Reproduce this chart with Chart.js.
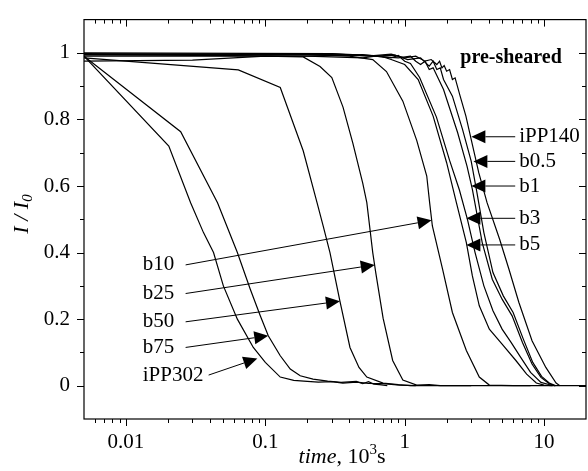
<!DOCTYPE html>
<html>
<head>
<meta charset="utf-8">
<script src="https://cdn.jsdelivr.net/npm/chart.js@4.4.0/dist/chart.umd.min.js"></script>
<style>
  body { margin: 0; background: #fff; }
  #wrap { width: 588px; height: 471px; }
</style>
</head>
<body>
<div id="wrap"><canvas id="chart" width="588" height="471"></canvas></div>
<script>
// time in 10^3 s, intensity I/I0
const tIPP302 = [0.005, 0.0203, 0.0291, 0.036, 0.0425, 0.05, 0.063, 0.082, 0.1, 0.128, 0.16, 0.2, 0.24, 0.3, 0.36, 0.45, 0.55, 0.7, 0.92, 1.2];
const iIPP302 = [0.99, 0.72, 0.55, 0.46, 0.40, 0.30, 0.20, 0.115, 0.07, 0.026, 0.016, 0.013, 0.011, 0.012, 0.008, 0.011, 0.007, 0.006, 0.002, 0];

const tB75 = [0.005, 0.0247, 0.0454, 0.063, 0.078, 0.092, 0.105, 0.128, 0.151, 0.178, 0.22, 0.28, 0.35, 0.45, 0.5, 0.55, 0.6, 0.66, 0.75];
const iB75 = [0.99, 0.763, 0.55, 0.40, 0.29, 0.21, 0.15, 0.09, 0.05, 0.03, 0.02, 0.014, 0.01, 0.013, 0.006, 0.012, 0.005, 0.003, 0];

const tB50 = [0.005, 0.064, 0.128, 0.187, 0.235, 0.26, 0.291, 0.343, 0.405, 0.47, 0.535, 0.7, 0.9, 1.1, 3];
const iB50 = [0.985, 0.949, 0.896, 0.706, 0.55, 0.48, 0.40, 0.254, 0.115, 0.055, 0.026, 0.008, 0.003, 0, 0];

const tB25 = [0.005, 0.03, 0.1, 0.187, 0.247, 0.3, 0.361, 0.425, 0.5, 0.535, 0.59, 0.62, 0.7, 0.82, 0.97, 1.22, 1.5, 1.8, 8];
const iB25 = [0.975, 0.978, 0.99, 0.988, 0.959, 0.926, 0.837, 0.728, 0.609, 0.55, 0.40, 0.34, 0.203, 0.076, 0.017, 0.002, 0.003, 0, 0];

const tB10 = [0.005, 0.2, 0.4, 0.59, 0.74, 0.97, 1.22, 1.44, 1.51, 1.58, 1.87, 2.2, 2.77, 3.43, 4.05, 6, 20];
const iB10 = [0.995, 0.995, 0.99, 0.98, 0.944, 0.855, 0.737, 0.63, 0.55, 0.48, 0.35, 0.22, 0.106, 0.026, 0.002, 0, 0];

const tB5 = [0.005, 0.2, 0.5, 0.65, 0.8, 1.0, 1.25, 1.6, 2.0, 2.35, 2.77, 3.06, 3.43, 4.05, 5.0, 6.3, 7.5, 8.8, 10, 11.5];
const iB5 = [0.99, 0.99, 0.985, 0.992, 0.98, 0.965, 0.92, 0.81, 0.67, 0.55, 0.43, 0.33, 0.24, 0.17, 0.125, 0.075, 0.035, 0.008, 0.002, 0];

const tB3 = [0.005, 0.2, 0.5, 0.8, 0.9, 1.0, 1.1, 1.28, 1.69, 2.1, 2.47, 2.82, 3.2, 3.7, 4.3, 5.0, 5.8, 6.8, 8, 9.5, 11, 12];
const iB3 = [0.995, 0.99, 0.995, 0.985, 0.992, 0.975, 0.968, 0.926, 0.807, 0.677, 0.588, 0.50, 0.40, 0.30, 0.225, 0.17, 0.13, 0.085, 0.04, 0.01, 0.003, 0];

const tB1 = [0.005, 0.3, 0.6, 0.9, 1.1, 1.2, 1.3, 1.4, 1.5, 1.6, 1.9, 2.4, 2.8, 3.06, 3.6, 4.25, 5.0, 5.9, 7.0, 8.2, 9.5, 10.9, 12];
const iB1 = [0.995, 0.997, 0.99, 0.985, 0.99, 0.975, 0.965, 0.975, 0.95, 0.955, 0.89, 0.76, 0.66, 0.59, 0.43, 0.32, 0.26, 0.21, 0.13, 0.065, 0.025, 0.006, 0];

const tB05 = [0.005, 0.3, 0.6, 0.85, 1.05, 1.3, 1.5, 1.6, 1.7, 1.8, 1.9, 2.2, 2.6, 3.0, 3.3, 3.7, 4.3, 5.1, 6.0, 7.1, 8.3, 9.6, 11, 12.2];
const iB05 = [0.998, 0.995, 0.99, 0.993, 0.98, 0.985, 0.96, 0.975, 0.95, 0.955, 0.92, 0.87, 0.77, 0.675, 0.58, 0.46, 0.34, 0.27, 0.22, 0.14, 0.07, 0.028, 0.007, 0];

const tIPP140 = [0.005, 0.3, 0.6, 0.8, 1.0, 1.2, 1.4, 1.55, 1.7, 1.78, 1.85, 1.92, 2.0, 2.1, 2.2, 2.3, 2.5, 2.75, 3.0, 3.4, 3.9, 4.8, 5.6, 6.6, 8.2, 10.3, 12.2, 13];
const iIPP140 = [1.0, 0.998, 0.992, 0.996, 0.985, 0.99, 0.975, 0.98, 0.965, 0.975, 0.955, 0.962, 0.945, 0.95, 0.92, 0.925, 0.87, 0.81, 0.74, 0.64, 0.55, 0.44, 0.35, 0.25, 0.135, 0.055, 0.008, 0];

const xMajor = [0.01, 0.1, 1, 10];
const yMajor = [0, 0.2, 0.4, 0.6, 0.8, 1];
const yMinor = [0.1, 0.3, 0.5, 0.7, 0.9];

// labels: [text, textX, textY, lineStartX, tipX, tipY]
const leftLabels = [
  ['b10', 0.0132, 0.363, 0.0268, 1.56, 0.497],
  ['b25', 0.0132, 0.277, 0.0268, 0.61, 0.363],
  ['b50', 0.0132, 0.192, 0.0268, 0.343, 0.254],
  ['b75', 0.0132, 0.115, 0.0268, 0.105, 0.150],
  ['iPP302', 0.0132, 0.032, 0.0392, 0.0877, 0.082]
];
const rightLabels = [
  ['iPP140', 6.63, 0.748, 6.21, 3.01, 0.748],
  ['b0.5', 6.63, 0.674, 6.21, 3.11, 0.674],
  ['b1', 6.63, 0.600, 6.21, 3.01, 0.600],
  ['b3', 6.63, 0.503, 6.21, 2.77, 0.503],
  ['b5', 6.63, 0.423, 6.21, 2.77, 0.423]
];

const serif = '"Liberation Serif", "Times New Roman", serif';

function series(t, v) {
  return t.map((x, i) => ({ x: x, y: v[i] }));
}

function line(label, t, v) {
  return {
    label: label,
    data: series(t, v),
    showLine: true,
    borderColor: '#000',
    borderWidth: 1.2,
    pointRadius: 0,
    tension: 0,
    fill: false
  };
}

function arrow(ctx, x0, y0, x1, y1) {
  const ang = Math.atan2(y1 - y0, x1 - x0);
  const len = 14, hw = 6.5;
  const bx = x1 - len * Math.cos(ang), by = y1 - len * Math.sin(ang);
  ctx.beginPath();
  ctx.moveTo(x0, y0);
  ctx.lineTo(bx, by);
  ctx.stroke();
  ctx.beginPath();
  ctx.moveTo(x1, y1);
  ctx.lineTo(bx + hw * Math.sin(ang), by - hw * Math.cos(ang));
  ctx.lineTo(bx - hw * Math.sin(ang), by + hw * Math.cos(ang));
  ctx.closePath();
  ctx.fill();
}

const decorations = {
  id: 'decorations',
  afterDraw(chart) {
    const ctx = chart.ctx;
    const a = chart.chartArea;
    const x = chart.scales.x, y = chart.scales.y;
    ctx.save();
    ctx.strokeStyle = '#000';
    ctx.fillStyle = '#000';
    ctx.lineWidth = 1.2;
    ctx.strokeRect(a.left, a.top, a.right - a.left, a.bottom - a.top);

    // x ticks, bottom outward and top inward
    const xMinor = [];
    for (let k = -3; k <= 1; k++) {
      for (let m = 2; m <= 9; m++) {
        const v = m * Math.pow(10, k);
        if (v > 0.005 && v < 20) xMinor.push(v);
      }
    }
    ctx.lineWidth = 1;
    ctx.beginPath();
    xMajor.forEach(v => {
      const px = Math.round(x.getPixelForValue(v)) + 0.5;
      ctx.moveTo(px, a.bottom); ctx.lineTo(px, a.bottom + 7);
      ctx.moveTo(px, a.top); ctx.lineTo(px, a.top + 7);
    });
    xMinor.forEach(v => {
      const px = Math.round(x.getPixelForValue(v)) + 0.5;
      ctx.moveTo(px, a.bottom); ctx.lineTo(px, a.bottom + 4);
      ctx.moveTo(px, a.top); ctx.lineTo(px, a.top + 4);
    });
    yMajor.forEach(v => {
      const py = Math.round(y.getPixelForValue(v)) + 0.5;
      ctx.moveTo(a.left - 7, py); ctx.lineTo(a.left, py);
      ctx.moveTo(a.right - 7, py); ctx.lineTo(a.right, py);
    });
    yMinor.forEach(v => {
      const py = Math.round(y.getPixelForValue(v)) + 0.5;
      ctx.moveTo(a.left - 4, py); ctx.lineTo(a.left, py);
      ctx.moveTo(a.right - 4, py); ctx.lineTo(a.right, py);
    });
    ctx.stroke();

    // arrows and labels
    ctx.font = '21px ' + serif;
    ctx.textBaseline = 'middle';
    ctx.textAlign = 'left';
    leftLabels.concat(rightLabels).forEach(l => {
      const ty = y.getPixelForValue(l[2]);
      ctx.fillText(l[0], x.getPixelForValue(l[1]), ty);
      arrow(ctx, x.getPixelForValue(l[3]), ty, x.getPixelForValue(l[4]), y.getPixelForValue(l[5]));
    });

    ctx.font = 'bold 20px ' + serif;
    ctx.textAlign = 'right';
    ctx.fillText('pre-sheared', x.getPixelForValue(13.4), y.getPixelForValue(0.985));

    // x title: time, 10^3 s
    const cx = (a.left + a.right) / 2 + 7, cy = 457;
    const parts = [
      ['time', 'italic 22px ' + serif, 0],
      [', 10', '22px ' + serif, 0],
      ['3', '15px ' + serif, -7],
      ['s', '22px ' + serif, 0]
    ];
    let w = 0;
    parts.forEach(p => { ctx.font = p[1]; w += ctx.measureText(p[0]).width; });
    let px = cx - w / 2;
    ctx.textAlign = 'left';
    parts.forEach(p => {
      ctx.font = p[1];
      ctx.fillText(p[0], px, cy + p[2]);
      px += ctx.measureText(p[0]).width;
    });

    // y title: I / I0
    ctx.translate(22, 214);
    ctx.rotate(-Math.PI / 2);
    const yparts = [
      ['I / I', 'italic 22px ' + serif, 0],
      ['0', 'italic 15px ' + serif, 6]
    ];
    w = 0;
    yparts.forEach(p => { ctx.font = p[1]; w += ctx.measureText(p[0]).width; });
    px = -w / 2;
    yparts.forEach(p => {
      ctx.font = p[1];
      ctx.fillText(p[0], px, p[2]);
      px += ctx.measureText(p[0]).width;
    });
    ctx.restore();
  }
};

const ctx = document.getElementById('chart').getContext('2d');
new Chart(ctx, {
  type: 'scatter',
  data: {
    datasets: [
      line('iPP302', tIPP302, iIPP302),
      line('b75', tB75, iB75),
      line('b50', tB50, iB50),
      line('b25', tB25, iB25),
      line('b10', tB10, iB10),
      line('b5', tB5, iB5),
      line('b3', tB3, iB3),
      line('b1', tB1, iB1),
      line('b0.5', tB05, iB05),
      line('iPP140', tIPP140, iIPP140)
    ]
  },
  options: {
    responsive: false,
    devicePixelRatio: 1,
    animation: false,
    layout: { padding: { top: 14, right: 2, left: 0, bottom: 0 } },
    plugins: {
      legend: { display: false },
      tooltip: { enabled: false }
    },
    scales: {
      x: {
        type: 'logarithmic',
        min: 0.005,
        max: 20,
        afterBuildTicks: s => { s.ticks = xMajor.map(v => ({ value: v })); },
        afterFit: s => { s.height = 52; },
        ticks: {
          callback: v => String(v),
          font: { family: serif, size: 21 },
          color: '#000',
          padding: 4,
          maxRotation: 0,
          autoSkip: false
        },
        grid: { display: true, drawOnChartArea: false, tickLength: 7, tickColor: 'rgba(0,0,0,0)' },
        border: { display: false }
      },
      y: {
        type: 'linear',
        min: -0.1,
        max: 1.1,
        afterBuildTicks: s => { s.ticks = yMajor.map(v => ({ value: v })); },
        afterFit: s => { s.width = 84; },
        ticks: {
          callback: v => String(v),
          font: { family: serif, size: 21 },
          color: '#000',
          padding: 7
        },
        grid: { display: true, drawOnChartArea: false, tickLength: 7, tickColor: 'rgba(0,0,0,0)' },
        border: { display: false }
      }
    }
  },
  plugins: [decorations]
});
</script>
</body>
</html>
